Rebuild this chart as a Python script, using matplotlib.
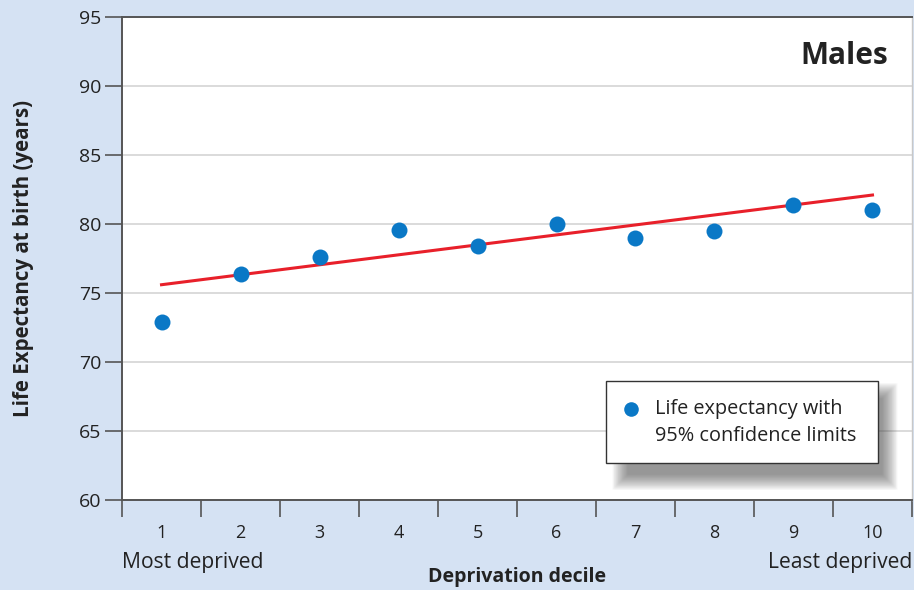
"""Life expectancy at birth by deprivation decile — males."""

import matplotlib.pyplot as plt
from matplotlib.patches import FancyBboxPatch, Rectangle

plt.rcParams["font.family"] = ["Open Sans", "DejaVu Sans"]

# ── Data ──────────────────────────────────────────────────────────────────────
deciles = [1, 2, 3, 4, 5, 6, 7, 8, 9, 10]
life_expectancy = [72.9, 76.4, 77.6, 79.6, 78.4, 80.0, 79.0, 79.5, 81.4, 81.0]
trend_x = [1, 10]
trend_y = [75.6, 82.1]
y_ticks = [60, 65, 70, 75, 80, 85, 90, 95]

BG = "#d5e2f3"
BLUE = "#0a78c6"
RED = "#e8202a"
AXIS = "#555555"
TEXT = "#222222"

fig = plt.figure(figsize=(9.14, 5.90), dpi=100, facecolor=BG)
ax = fig.add_axes([0.1335, 0.1525, 0.8643, 0.8187])
ax.set_facecolor("white")
AX_W, AX_H = 790.0, 483.0  # axes size in pixels

# grid + axes
ax.set_xlim(0.5, 10.5)
ax.set_ylim(60, 95)
ax.set_yticks(y_ticks)
ax.grid(axis="y", color="#d4d4d4", linewidth=1.2, zorder=0)
ax.set_axisbelow(True)

ax.set_xticks([d - 0.5 for d in deciles] + [10.5])
ax.set_xticklabels([])
ax.set_xticks(deciles, minor=True)
ax.set_xticklabels([str(d) for d in deciles], minor=True, fontsize=13, color=TEXT)
ax.tick_params(axis="x", which="major", length=12, width=1.2, color=AXIS, direction="out")
ax.tick_params(axis="x", which="minor", length=0, pad=17)
ax.tick_params(axis="y", length=12, width=1.2, color=AXIS, labelsize=14,
               labelcolor=TEXT, pad=3)

for side in ["left", "bottom", "top"]:
    ax.spines[side].set_color(AXIS)
    ax.spines[side].set_linewidth(1.4)
ax.spines["right"].set_color("#c8c8c8")
ax.spines["right"].set_linewidth(1.0)

# data
ax.plot(trend_x, trend_y, color=RED, linewidth=2.2, zorder=3)
ax.plot(deciles, life_expectancy, "o", color=BLUE, markersize=11.5,
        markeredgewidth=0, zorder=4)

# labels
ax.set_ylabel("Life Expectancy at birth (years)", fontsize=14.8, fontweight="bold",
              color=TEXT, labelpad=32)
ax.text(0.5, -0.1594, "Deprivation decile", transform=ax.transAxes, fontsize=14,
        fontweight="bold", color=TEXT, ha="center", va="center")
ax.text(0.0, -0.13, "Most deprived", transform=ax.transAxes, fontsize=15.2,
        color=TEXT, ha="left", va="center")
ax.text(1.0, -0.13, "Least deprived", transform=ax.transAxes, fontsize=15.2,
        color=TEXT, ha="right", va="center")
ax.text(0.9696, 0.92, "Males", transform=ax.transAxes, fontsize=21.5,
        fontweight="bold", color=TEXT, ha="right", va="center")

# legend box with soft drop shadow (pixel coords from axes top-left)
def px_box(x0, y0, x1, y1):
    return (x0 / AX_W, 1 - y1 / AX_H, (x1 - x0) / AX_W, (y1 - y0) / AX_H)

sx0, sy0, sx1, sy1 = 500.0, 375.0, 766.0, 464.0
n_layers = 20
for i in range(n_layers):
    inset = -8 + i * 0.8
    bx, by, bw, bh = px_box(sx0 + inset, sy0 + inset, sx1 - inset, sy1 - inset)
    ax.add_patch(FancyBboxPatch(
        (bx, by), bw, bh, boxstyle="round,pad=0.002", transform=ax.transAxes,
        facecolor="#444444", edgecolor="none", alpha=0.035, zorder=5))

lx, ly, lw, lh = px_box(484, 364, 756, 446)
ax.add_patch(Rectangle((lx, ly), lw, lh, transform=ax.transAxes,
                       facecolor="white", edgecolor="#333333", linewidth=1.0,
                       zorder=6))
ax.plot([0.6443], [0.1888], "o", transform=ax.transAxes, color=BLUE,
        markersize=10.5, markeredgewidth=0, zorder=7, clip_on=False)
ax.text(0.6747, 0.1888, "Life expectancy with", transform=ax.transAxes,
        fontsize=14.3, color=TEXT, ha="left", va="center", zorder=7)
ax.text(0.6747, 0.1317, "95% confidence limits", transform=ax.transAxes,
        fontsize=14.3, color=TEXT, ha="left", va="center", zorder=7)

fig.savefig("out.png", dpi=100, facecolor=BG)
